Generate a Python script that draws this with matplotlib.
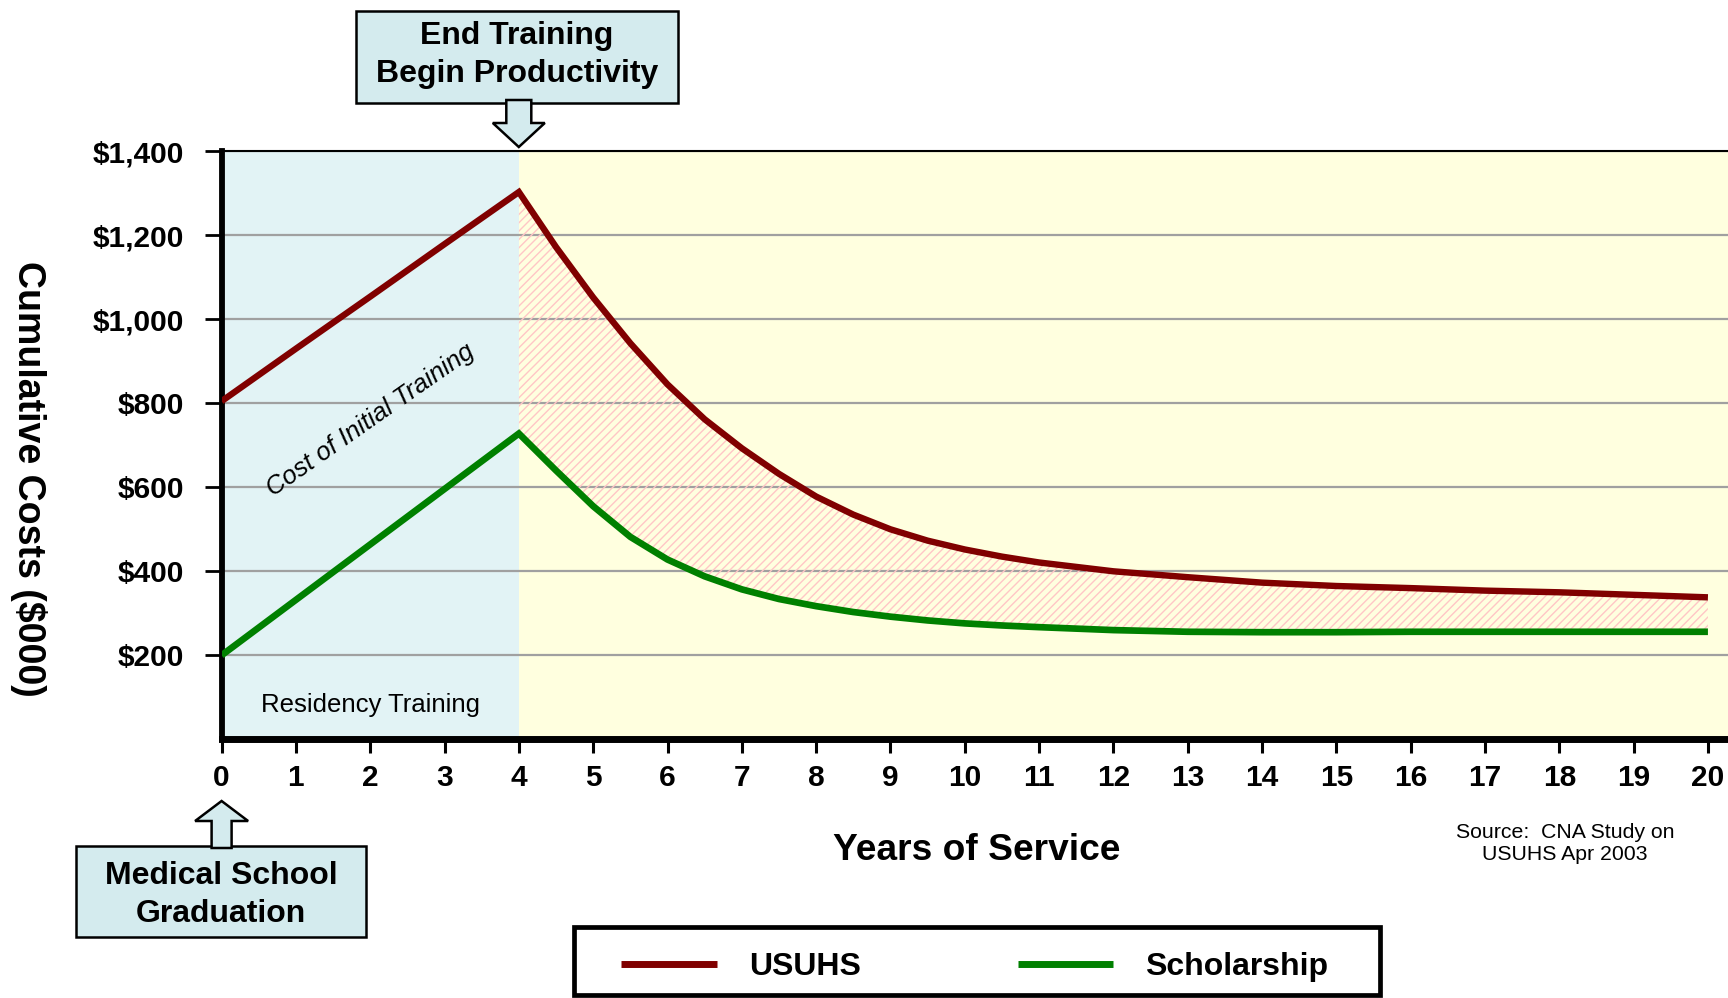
import matplotlib
matplotlib.use("Agg")
import matplotlib.pyplot as plt
import numpy as np
from matplotlib.patches import Rectangle, Polygon

plt.rcParams['font.family'] = ['Liberation Sans', 'DejaVu Sans']
plt.rcParams['hatch.linewidth'] = 1.0

# ---------------- data ----------------
years = [0, 1, 2, 3, 4, 4.5, 5, 5.5, 6, 6.5, 7, 7.5, 8, 8.5, 9, 9.5, 10, 10.5,
         11, 12, 13, 14, 15, 16, 17, 18, 19, 20]
usuhs = [805, 930, 1054, 1179, 1303, 1172, 1052, 943, 845, 762, 693, 632, 578,
         535, 500, 473, 452, 435, 421, 400, 386, 373, 365, 360, 354, 350, 344, 338]
scholarship = [200, 332, 464, 596, 728, 640, 555, 482, 428, 388, 357, 334, 317,
               303, 292, 283, 276, 271, 267, 260, 256, 255, 255, 256, 256, 256, 256, 256]
series_names = ["USUHS", "Scholarship"]
series_colors = ["#800000", "#008000"]
x_ticks = list(range(0, 21))
y_ticks = [200, 400, 600, 800, 1000, 1200, 1400]
y_tick_labels = ["$200", "$400", "$600", "$800", "$1,000", "$1,200", "$1,400"]
training_end = 4

W, H = 1728, 998
def fx(x):
    return x / W
def fy(y):
    return 1 - y / H

fig = plt.figure(figsize=(W / 100, H / 100), dpi=100)
fig.patch.set_facecolor("white")

ax = fig.add_axes([fx(221.6), fy(739.3), (W - 221.6) / W, (739.3 - 151.3) / H])
ax.set_xlim(0, 20.27)
ax.set_ylim(0, 1400)

# background regions
ax.axvspan(0, training_end, color="#E2F3F5", zorder=0, lw=0)
ax.axvspan(training_end, 20.27, color="#FFFFDF", zorder=0, lw=0)

ax.set_axisbelow(True)
ax.yaxis.grid(True, color="#A0A0A0", linewidth=1.6)
ax.xaxis.grid(False)

x = np.array(years, dtype=float)
u = np.array(usuhs, dtype=float)
s = np.array(scholarship, dtype=float)

ax.fill_between(x, s, u, where=x >= training_end, facecolor="none",
                edgecolor="#FFC6C6", hatch="////", linewidth=0, zorder=2)

l1, = ax.plot(x, u, color=series_colors[0], lw=4.6, zorder=3,
              solid_joinstyle="miter", solid_capstyle="butt", label=series_names[0])
l2, = ax.plot(x, s, color=series_colors[1], lw=4.8, zorder=3,
              solid_joinstyle="miter", solid_capstyle="butt", label=series_names[1])

# axes styling
ax.set_xticks(x_ticks)
ax.set_xticklabels([str(t) for t in x_ticks])
ax.set_yticks(y_ticks)
ax.set_yticklabels(y_tick_labels)
ax.tick_params(axis="x", direction="out", length=10, width=2.2, pad=8,
               labelsize=21.5)
ax.tick_params(axis="y", direction="out", length=12, width=2.0, pad=15,
               labelsize=21.5)
for lab in ax.get_xticklabels() + ax.get_yticklabels():
    lab.set_fontweight("bold")

ax.spines["right"].set_visible(False)
ax.spines["top"].set_linewidth(1.5)
ax.spines["left"].set_linewidth(4.2)
ax.spines["bottom"].set_linewidth(5)

# in-plot texts
ax.text(2.0, 82, "Residency Training", ha="center", va="center",
        fontsize=18.5, zorder=4)
ax.text(2.01, 760, "Cost of Initial Training", ha="center", va="center",
        fontsize=18.5, rotation=35, style="italic", zorder=4)

# axis titles
fig.text(fx(28), fy(479), "Cumulative Costs ($000)", rotation=270,
         ha="center", va="center", fontsize=27, fontweight="bold")
fig.text(fx(977), fy(850), "Years of Service", ha="center", va="center",
         fontsize=26.7, fontweight="bold")

# source
fig.text(fx(1565), fy(843), "Source:  CNA Study on\nUSUHS Apr 2003",
         ha="center", va="center", fontsize=15.3, linespacing=1.2)

box_fc = "#D4EBEE"
# top call-out box
cx = 221.6 + 74.3 * training_end
fig.add_artist(Polygon([(fx(cx - 12.5), fy(100)), (fx(cx + 12.5), fy(100)),
                        (fx(cx + 12.5), fy(123)), (fx(cx + 26), fy(123)),
                        (fx(cx), fy(147)), (fx(cx - 26), fy(123)),
                        (fx(cx - 12.5), fy(123))],
                       closed=True, transform=fig.transFigure,
                       facecolor=box_fc, edgecolor="black", lw=1.8, zorder=5))
fig.add_artist(Rectangle((fx(356), fy(102.5)), (678 - 356) / W, (102.5 - 11) / H,
                         transform=fig.transFigure, facecolor=box_fc,
                         edgecolor="black", lw=1.8, zorder=4))
fig.text(fx(517), fy(36), "End Training", ha="center", va="center",
         fontsize=23, fontweight="bold", zorder=6)
fig.text(fx(517), fy(74), "Begin Productivity", ha="center", va="center",
         fontsize=23, fontweight="bold", zorder=6)

# bottom call-out box
bx = 221.6
fig.add_artist(Polygon([(fx(bx - 10), fy(848)), (fx(bx + 10), fy(848)),
                        (fx(bx + 10), fy(821)), (fx(bx + 26.5), fy(821)),
                        (fx(bx), fy(801)), (fx(bx - 26.5), fy(821)),
                        (fx(bx - 10), fy(821))],
                       closed=True, transform=fig.transFigure,
                       facecolor=box_fc, edgecolor="black", lw=1.8, zorder=5))
fig.add_artist(Rectangle((fx(76), fy(937)), (366 - 76) / W, (937 - 846) / H,
                         transform=fig.transFigure, facecolor=box_fc,
                         edgecolor="black", lw=1.8, zorder=4))
fig.text(fx(221), fy(876), "Medical School", ha="center", va="center",
         fontsize=23, fontweight="bold", zorder=6)
fig.text(fx(221), fy(914), "Graduation", ha="center", va="center",
         fontsize=23, fontweight="bold", zorder=6)

# legend
fig.add_artist(Rectangle((fx(574), fy(995)), (1380 - 574) / W, (995 - 927) / H,
                         transform=fig.transFigure, facecolor="white",
                         edgecolor="black", lw=3.4, zorder=4))
leg = fig.legend(handles=[l1, l2], labels=series_names, loc="center",
                 bbox_to_anchor=(fx(975), fy(967)), ncol=2, frameon=False,
                 handlelength=3.0, handletextpad=1.0, columnspacing=4.9,
                 borderpad=0, prop={"size": 23, "weight": "bold"})
leg.set_zorder(6)
for h in leg.legend_handles:
    h.set_linewidth(5)

fig.savefig("out.png", dpi=100)
